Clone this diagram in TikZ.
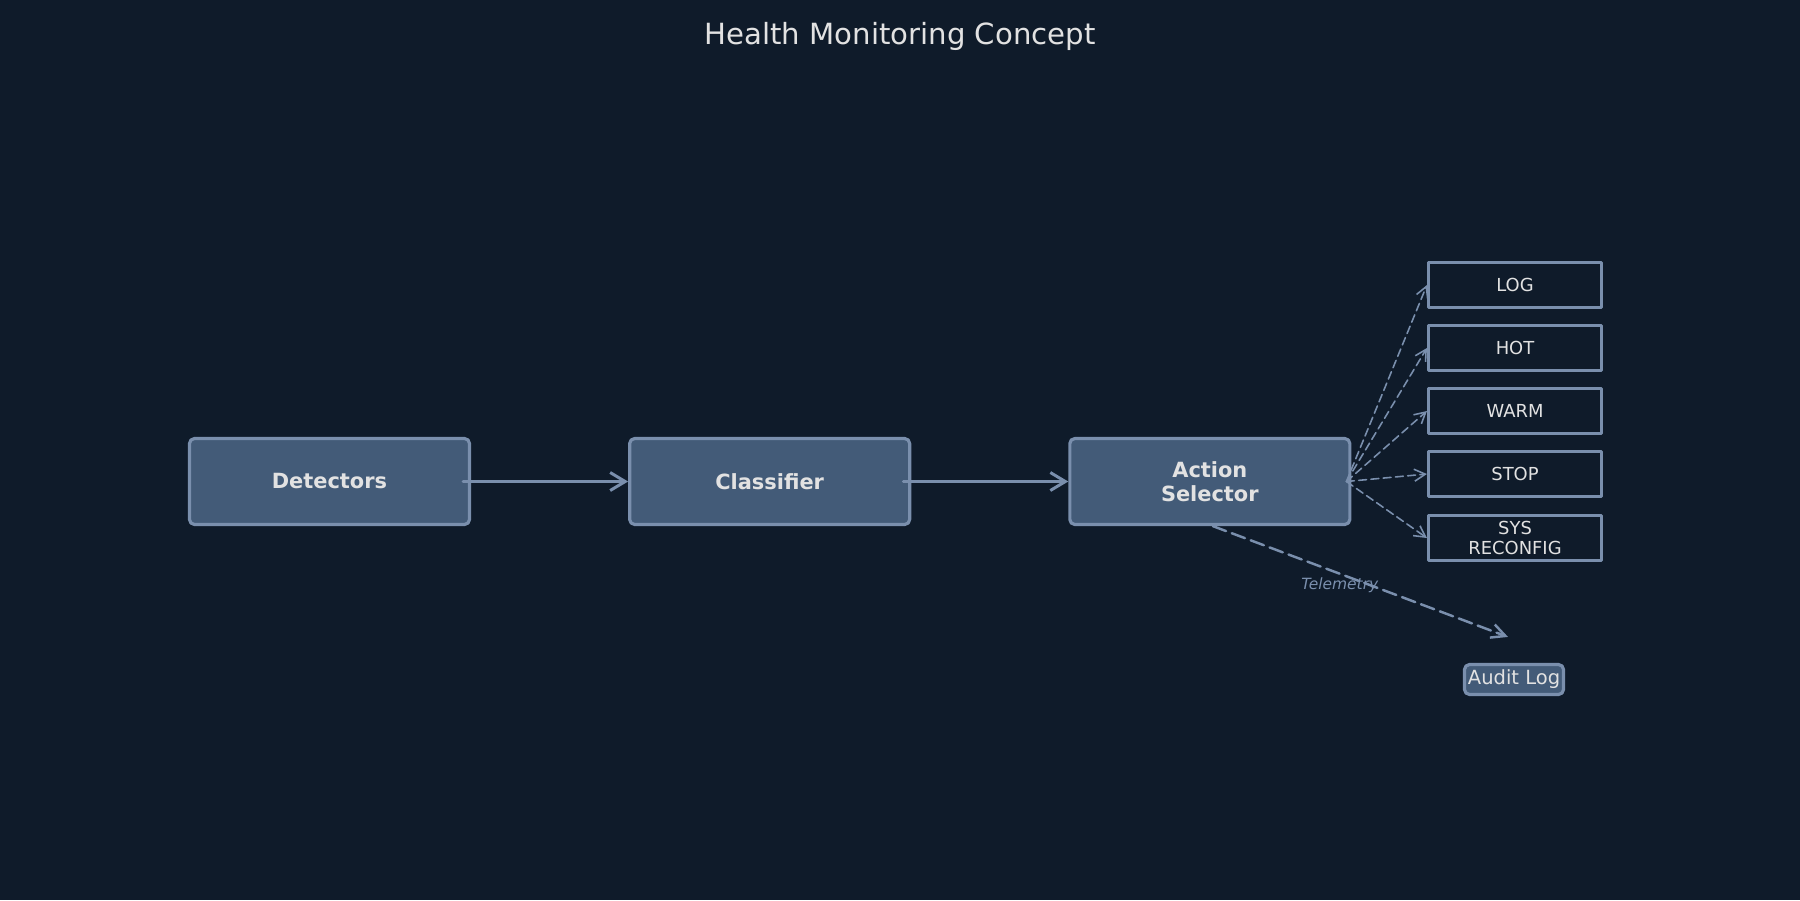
\documentclass[tikz,border=0pt]{standalone}
\usepackage{fontspec}
\setmainfont{DejaVu Sans}
\usepackage{xcolor}
\usepackage{tikz}
\usetikzlibrary{arrows.meta,positioning}
\definecolor{bgnavy}{HTML}{0F1B2A}
\definecolor{boxfill}{HTML}{435B78}
\definecolor{edgeblue}{HTML}{7A8FAD}
\definecolor{paper}{HTML}{E2E2E2}
\tikzset{
    every picture/.style={line cap=round,line join=round},
    stagebox/.style={draw=edgeblue,fill=boxfill,line width=1.8pt,rounded corners=1mm,
      minimum width=5.6cm,minimum height=1.72cm,inner sep=2pt,
      text=paper,font=\fontsize{11.9}{13.6}\selectfont\bfseries,align=center},
    actionbox/.style={draw=edgeblue,fill=bgnavy,line width=1.5pt,
      minimum width=3.47cm,minimum height=0.91cm,inner sep=1pt,
      text=paper,font=\fontsize{10.2}{11.9}\selectfont,align=center},
    auditbox/.style={draw=edgeblue,fill=boxfill,line width=1.8pt,rounded corners=1mm,
      minimum width=1.98cm,minimum height=0.6cm,inner sep=1pt,
      text=paper,font=\fontsize{11.1}{12}\selectfont},
    flowarrow/.style={-{Straight Barb[length=3mm,width=3.6mm]},draw=edgeblue,
      line width=1.7pt},
    fanarrow/.style={-{Straight Barb[length=2.2mm,width=2.4mm]},draw=edgeblue,
      line width=0.9pt,dash pattern=on 4.5pt off 2.5pt},
    telearrow/.style={-{Straight Barb[length=2.8mm,width=2.8mm]},draw=edgeblue,
      line width=1.4pt,dash pattern=on 8pt off 3.5pt},
    telelabel/.style={text=edgeblue,font=\fontsize{8.8}{10}\selectfont\itshape}
}

\begin{document}
\begin{tikzpicture}
  \useasboundingbox (0,0) rectangle (36,-18);
  \fill[bgnavy] (0,0) rectangle (36,-18);
  \node[text=paper,font=\fontsize{16.6}{18}\selectfont] (title) at (18,-0.72) {Health Monitoring Concept};
  % main chain
  \node[stagebox] (det) at (6.59,-9.63) {Detectors};
  \node[stagebox,right=3.14cm of det] (cls) {Classifier};
  \node[stagebox,right=3.14cm of cls] (act) {Action\\Selector};
  \draw[flowarrow] ([xshift=-1.6mm]det.east) -- (cls.west);
  \draw[flowarrow] ([xshift=-1.6mm]cls.east) -- (act.west);
  % actions
  \foreach \n/\y/\t in {log/5.7/LOG,hot/6.96/HOT,warm/8.22/WARM,stop/9.48/STOP,sys/10.76/SYS\\RECONFIG} {
    \node[actionbox] (\n) at (30.3,-\y) {\t};
    \draw[fanarrow] ([xshift=-1mm]act.east) -- (\n.west);
  }
  % audit trail
  \node[auditbox] (audit) at (30.28,-13.59) {Audit Log};
  \coordinate (telend) at ([xshift=-1.2mm,yshift=5.2mm]audit.north);
  \draw[telearrow] ([xshift=0.6mm]act.south) -- (telend)
    node[telelabel,pos=0.43,yshift=-2.2mm] {Telemetry};
\end{tikzpicture}
\end{document}
